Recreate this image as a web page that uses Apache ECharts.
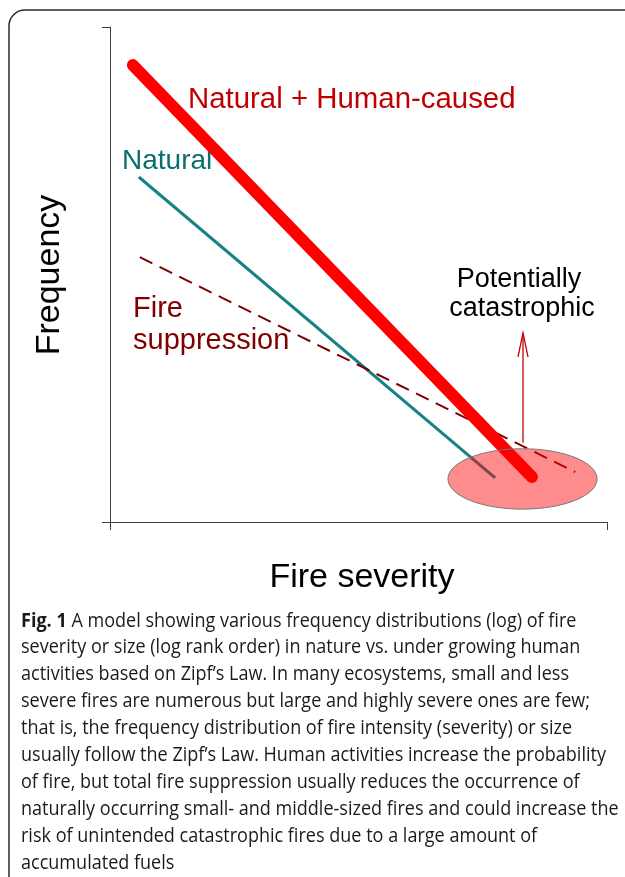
<!DOCTYPE html>
<html>
<head>
<meta charset="utf-8">
<script src="https://cdn.jsdelivr.net/npm/echarts@6/dist/echarts.min.js"></script>
<style>
  html, body { margin: 0; padding: 0; background: #fff; }
  #chart { width: 625px; height: 877px; }
</style>
</head>
<body>
<div id="chart"></div>
<script>
// conceptual model, axes run 0..100 (no units, log scales in the original)
const combinedX = [4.6, 84.9];
const combinedY = [92.3, 9.1];
const naturalX = [5.8, 77.5];
const naturalY = [69.7, 8.9];
const suppressedX = [6.0, 93.6];
const suppressedY = [53.5, 10.1];
// catastrophic zone: [xMin, xMax, yMin, yMax]
const catastrophicZone = [68.0, 98.0, 2.6, 14.8];
// arrow: [x, yFrom, yTo]
const arrowPath = [83.1, 16.0, 38.2];

const captionLines = [
  'A model showing various frequency distributions (log) of fire',
  'severity or size (log rank order) in nature vs. under growing human',
  'activities based on Zipf\u2019s Law. In many ecosystems, small and less',
  'severe fires are numerous but large and highly severe ones are few;',
  'that is, the frequency distribution of fire intensity (severity) or size',
  'usually follow the Zipf\u2019s Law. Human activities increase the probability',
  'of fire, but total fire suppression usually reduces the occurrence of',
  'naturally occurring small- and middle-sized fires and could increase the',
  'risk of unintended catastrophic fires due to a large amount of',
  'accumulated fuels'
];

const pairs = (xs, ys) => xs.map((x, i) => [x, ys[i]]);

const chart = echarts.init(document.getElementById('chart'));

const SANS = '"Liberation Sans", Arial, sans-serif';
const CAP = '"Open Sans", "Noto Sans", sans-serif';

const graphics = [
  {
    type: 'rect',
    shape: { x: 9, y: 10, width: 700, height: 900, r: [16, 0, 0, 0] },
    style: { fill: 'none', stroke: '#2a2a2a', lineWidth: 1.5 },
    silent: true
  },
  { type: 'text', style: { text: 'Natural + Human-caused', x: 188, y: 100, font: '29.4px ' + SANS, fill: '#C00000', textVerticalAlign: 'middle' } },
  { type: 'text', style: { text: 'Natural', x: 122, y: 161, font: '28px ' + SANS, fill: '#0B6E6E', textVerticalAlign: 'middle' } },
  { type: 'text', style: { text: 'Fire', x: 133, y: 309, font: '29px ' + SANS, fill: '#800000', textVerticalAlign: 'middle' } },
  { type: 'text', style: { text: 'suppression', x: 133, y: 341, font: '29px ' + SANS, fill: '#800000', textVerticalAlign: 'middle' } },
  { type: 'text', style: { text: 'Potentially', x: 519, y: 280, font: '27px ' + SANS, fill: '#000', textAlign: 'center', textVerticalAlign: 'middle' } },
  { type: 'text', style: { text: 'catastrophic', x: 522, y: 309, font: '27px ' + SANS, fill: '#000', textAlign: 'center', textVerticalAlign: 'middle' } },
  { type: 'text', x: 50, y: 275, rotation: Math.PI / 2, style: { text: 'Frequency', x: 0, y: 0, font: '34px ' + SANS, fill: '#000', textAlign: 'center', textVerticalAlign: 'middle' } },
  { type: 'text', style: { text: 'Fire severity', x: 362, y: 578, font: '34px ' + SANS, fill: '#000', textAlign: 'center', textVerticalAlign: 'middle' } }
];

// caption, one text per printed line; squeezed a bit to match the narrower print face
captionLines.forEach((line, i) => {
  graphics.push({
    type: 'text',
    x: 21, y: 621 + i * 26.9,
    scaleX: 0.925,
    style: {
      text: i === 0 ? '{b|Fig. 1} ' + line : line,
      x: 0, y: 0,
      font: '19.5px ' + CAP, fill: '#1a1a1a',
      textVerticalAlign: 'middle',
      rich: { b: { fontWeight: 'bold', fontSize: 19.5, fontFamily: CAP, fill: '#1a1a1a' } }
    }
  });
});

const option = {
  animation: false,
  grid: { left: 110, right: 18, top: 27, bottom: 355, containLabel: false },
  xAxis: {
    type: 'value', min: 0, max: 100, interval: 100,
    axisLine: { lineStyle: { color: '#404040', width: 1 } },
    axisTick: { show: true, length: 8, lineStyle: { color: '#404040' } },
    axisLabel: { show: false },
    splitLine: { show: false }
  },
  yAxis: {
    type: 'value', min: 0, max: 100, interval: 100,
    axisLine: { show: true, lineStyle: { color: '#404040', width: 1 } },
    axisTick: { show: true, length: 8, lineStyle: { color: '#404040' } },
    axisLabel: { show: false },
    splitLine: { show: false }
  },
  series: [
    {
      name: 'Natural', type: 'line', data: pairs(naturalX, naturalY),
      showSymbol: false, z: 2,
      lineStyle: { color: '#178282', width: 3 }
    },
    {
      name: 'Fire suppression', type: 'line', data: pairs(suppressedX, suppressedY),
      showSymbol: false, z: 2,
      lineStyle: { color: '#800000', width: 2, type: [14, 8] }
    },
    {
      name: 'Natural + Human-caused', type: 'line', data: pairs(combinedX, combinedY),
      showSymbol: false, z: 3,
      lineStyle: { color: '#FF0000', width: 12, cap: 'round' }
    },
    {
      name: 'zone', type: 'custom', z: 5,
      data: [catastrophicZone],
      renderItem: function (params, api) {
        const p1 = api.coord([api.value(0), api.value(3)]);
        const p2 = api.coord([api.value(1), api.value(2)]);
        return {
          type: 'ellipse',
          shape: { cx: (p1[0] + p2[0]) / 2, cy: (p1[1] + p2[1]) / 2, rx: (p2[0] - p1[0]) / 2, ry: (p2[1] - p1[1]) / 2 },
          style: { fill: 'rgba(255,0,0,0.45)', stroke: '#777', lineWidth: 1 }
        };
      }
    },
    {
      name: 'arrow', type: 'custom', z: 6,
      data: [arrowPath],
      renderItem: function (params, api) {
        const a = api.coord([api.value(0), api.value(1)]);
        const b = api.coord([api.value(0), api.value(2)]);
        const st = { stroke: '#C00000', lineWidth: 1.3 };
        return {
          type: 'group',
          children: [
            { type: 'line', shape: { x1: a[0], y1: a[1], x2: b[0], y2: b[1] }, style: st },
            { type: 'polyline', shape: { points: [[b[0] - 5, b[1] + 24], [b[0], b[1]], [b[0] + 5, b[1] + 24]] }, style: Object.assign({ fill: 'none' }, st) }
          ]
        };
      }
    }
  ],
  graphic: graphics
};

chart.setOption(option);
</script>
</body>
</html>
